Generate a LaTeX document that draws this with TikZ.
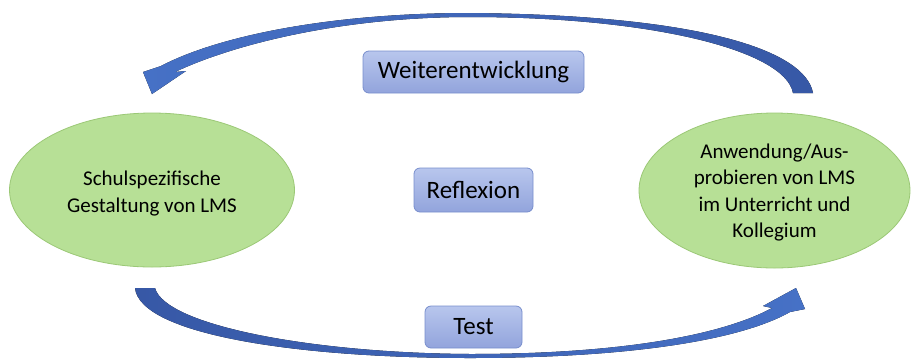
\documentclass[tikz,border=0pt]{standalone}
\usepackage{fontspec}
\setmainfont{Carlito}
\usetikzlibrary{shapes.geometric}
\definecolor{elfill}{RGB}{183,224,150}
\definecolor{eldraw}{RGB}{155,200,118}
\definecolor{boxtop}{RGB}{184,198,237}
\definecolor{boxbot}{RGB}{146,164,220}
\definecolor{boxdraw}{RGB}{120,142,205}
\definecolor{arrdark}{RGB}{55,88,166}
\definecolor{arrlight}{RGB}{70,113,198}
\begin{document}
\begin{tikzpicture}[x=1pt,y=-1pt,
  phase/.style={ellipse, fill=elfill, draw=eldraw, line width=0.8pt, inner sep=0pt},
  phasetext/.style={align=center, inner sep=0pt, font=\fontsize{21}{26.5}\selectfont},
  stage/.style={rounded corners=6pt, top color=boxtop, bottom color=boxbot, draw=boxdraw,
    line width=0.8pt, inner sep=0pt, font=\fontsize{25}{30}\selectfont},
  blockarrow/.style={draw=none}
]
\useasboundingbox (0,0) rectangle (913,360);

% phases
\node[phase, minimum width=285pt, minimum height=154pt] (gest) at (152,190) {};
\node[phasetext] (gesttext) at (152,193.5) {Schulspezifische\\Gestaltung von LMS};
\node[phase, minimum width=271pt, minimum height=155pt] (anw) at (774.5,190.5) {};
\node[phasetext] (anwtext) at (774.5,192.5)
  {Anwendung/Aus-\\probieren von LMS\\im Unterricht und\\Kollegium};

% stages
\node[stage, minimum width=221pt, minimum height=42pt] (weiter) at (473.5,72) {Weiterentwicklung};
\node[stage, minimum width=119pt, minimum height=44pt] (refl) at (473.5,190) {Reflexion};
\node[stage, minimum width=97pt, minimum height=42pt] (test) at (473.5,327) {Test};

% top curved arrow (from right to left)
\fill[blockarrow, left color=arrlight, right color=arrdark]
  (813,93) .. controls (805,50) and (700,15) .. (470,13)
  .. controls (330,13) and (218,36) .. (161,66)
  -- (143,72) -- (152,94) -- (186,71) -- (175,72)
  .. controls (232,45) and (340,17) .. (470,17)
  .. controls (650,17) and (785,50) .. (793,93) -- cycle;

% bottom curved arrow (from left to right)
\fill[blockarrow, left color=arrdark, right color=arrlight]
  (135,288) .. controls (140,335) and (300,358) .. (470,358)
  .. controls (620,358) and (737,342) .. (790,312)
  -- (805,309) -- (796,288) -- (763,306) -- (772,308)
  .. controls (726,333) and (630,354) .. (470,354)
  .. controls (310,353) and (165,325) .. (155,288) -- cycle;
\end{tikzpicture}
\end{document}
